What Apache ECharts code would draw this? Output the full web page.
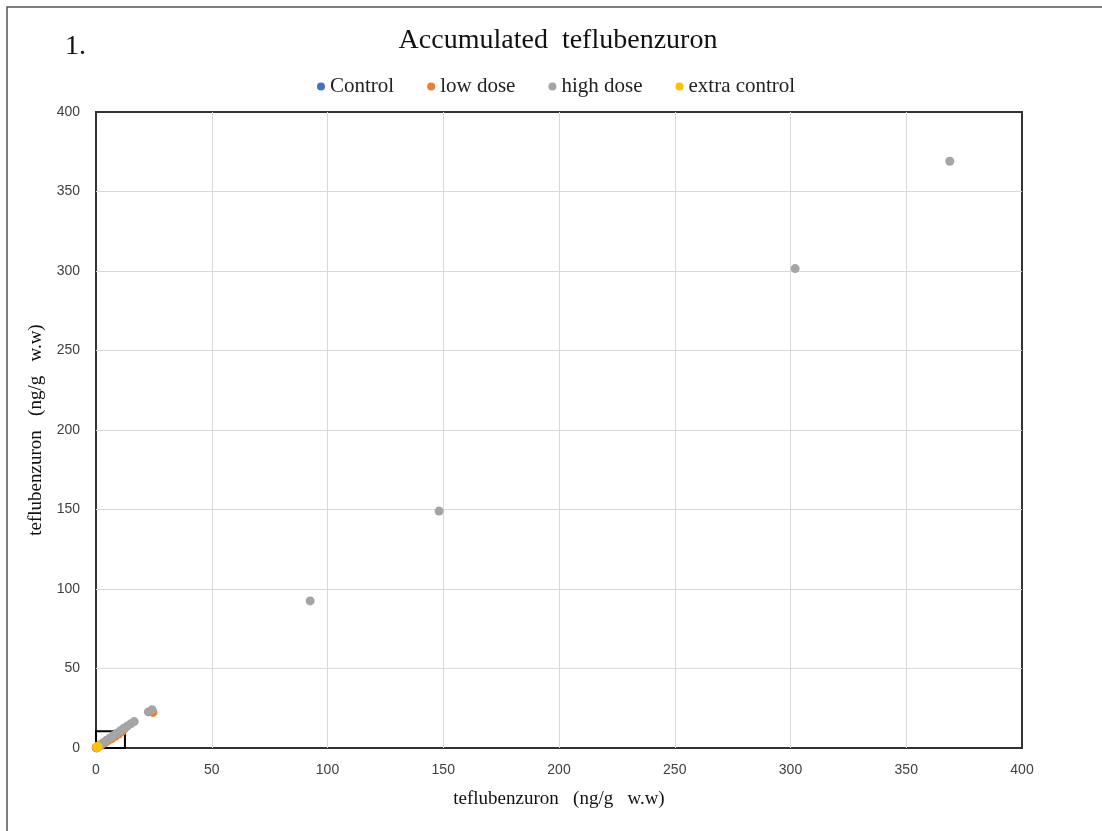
<!DOCTYPE html>
<html>
<head>
<meta charset="utf-8">
<script src="https://cdn.jsdelivr.net/npm/echarts@6/dist/echarts.min.js"></script>
<style>html,body{margin:0;padding:0;background:#fff;}#c{width:1102px;height:831px;}</style>
</head>
<body>
<div id="c"></div>
<script>
var titleText = 'Accumulated  teflubenzuron';
var panelLabel = '1.';
var axisName = 'teflubenzuron   (ng/g   w.w)';
var seriesNames = ['Control', 'low dose', 'high dose', 'extra control'];
var axisTicks = [0, 50, 100, 150, 200, 250, 300, 350, 400];
var controlData = [[0.2,0.1],[0.3,0.3],[0.1,0.2],[0.4,0.2]];
var lowDoseData = [[1.5,1.2],[2.5,2.2],[3.8,3.3],[5.2,4.6],[6.8,6.0],[8.3,7.4],[9.8,8.8],[11.3,10.5],[12.2,12.0],[24.6,22.4]];
var highDoseData = [[0.8,0.9],[2.0,2.2],[3.2,3.4],[4.5,4.8],[6.0,6.3],[7.5,7.8],[9.0,9.3],[10.5,10.8],[12.0,12.4],[13.5,13.8],[15.0,15.2],[16.5,16.6],[22.6,22.7],[24.2,24.1],[92.5,92.5],[148.2,149.0],[302.0,301.5],[368.8,369.0]];
var extraControlData = [[0.2,0.3],[0.6,0.5],[1.0,0.8],[0.4,0.9]];
var boxCorners = [[0,0],[12.5,10.5]];

var chart = echarts.init(document.getElementById('c'));
var serif = '"Liberation Serif", "Times New Roman", serif';
var sans = '"Liberation Sans", Arial, sans-serif';
var colors = ['#4472C4', '#ED7D31', '#A5A5A5', '#FFC000'];
var allData = [controlData, lowDoseData, highDoseData, extraControlData];

var series = seriesNames.map(function (n, i) {
  return {
    name: n, type: 'scatter', data: allData[i], symbol: 'circle', symbolSize: 9,
    itemStyle: { color: colors[i], opacity: 1 }, z: 2 + i
  };
});
series.push({
  name: 'box', type: 'scatter', data: [], z: 10,
  markArea: {
    silent: true,
    itemStyle: { color: 'rgba(0,0,0,0)', borderColor: '#000', borderWidth: 2 },
    data: [[{ coord: boxCorners[0] }, { coord: boxCorners[1] }]]
  }
});

chart.setOption({
  animation: false,
  backgroundColor: '#fff',
  color: colors,
  title: {
    text: titleText, left: 553, textAlign: 'center', top: 22,
    textStyle: { fontFamily: serif, fontSize: 28, fontWeight: 'normal', color: '#111' }
  },
  legend: {
    data: seriesNames, top: 71, left: 312, icon: 'circle',
    itemWidth: 8, itemHeight: 8, itemGap: 33,
    textStyle: { fontFamily: serif, fontSize: 21, color: '#222' }
  },
  graphic: [
    { type: 'rect', shape: { x: 7, y: 7, width: 1200, height: 1000 }, style: { fill: 'none', stroke: '#555', lineWidth: 1.5 }, silent: true },
    { type: 'text', left: 65, top: 33, style: { text: panelLabel, font: '28px ' + serif, fill: '#111' } }
  ],
  grid: { left: 96, top: 112, right: 80, bottom: 83, show: true, borderColor: '#333', borderWidth: 2, containLabel: false },
  xAxis: {
    type: 'value', min: axisTicks[0], max: axisTicks[axisTicks.length - 1], interval: 50,
    name: axisName, nameLocation: 'middle', nameGap: 42,
    nameTextStyle: { fontFamily: serif, fontSize: 19, color: '#111' },
    axisLine: { show: false }, axisTick: { show: false },
    axisLabel: { fontFamily: sans, fontSize: 14, color: '#404040', margin: 15 },
    splitLine: { show: true, showMinLine: false, showMaxLine: false, lineStyle: { color: '#d9d9d9', width: 1 } }
  },
  yAxis: {
    type: 'value', min: axisTicks[0], max: axisTicks[axisTicks.length - 1], interval: 50,
    name: axisName, nameLocation: 'middle', nameGap: 50,
    nameTextStyle: { fontFamily: serif, fontSize: 19, color: '#111' },
    axisLine: { show: false }, axisTick: { show: false },
    axisLabel: { fontFamily: sans, fontSize: 14, color: '#404040', margin: 16 },
    splitLine: { show: true, showMinLine: false, showMaxLine: false, lineStyle: { color: '#d9d9d9', width: 1 } }
  },
  series: series
});
</script>
</body>
</html>
